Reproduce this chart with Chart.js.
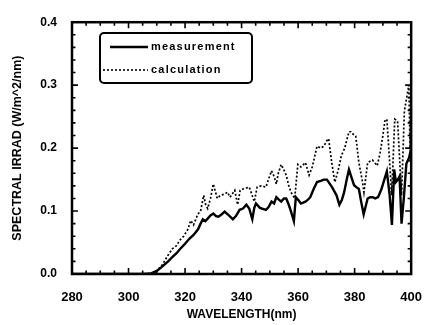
<!DOCTYPE html>
<html>
<head>
<meta charset="utf-8">
<script src="https://cdn.jsdelivr.net/npm/chart.js@4/dist/chart.umd.min.js"></script>
<style>
  body { margin: 0; background: #fff; }
  #wrap { width: 438px; height: 325px; position: relative; }
</style>
</head>
<body>
<div id="wrap"><canvas id="line-chart" width="438" height="325"></canvas></div>
<script>
var measWave = [280, 290, 300, 305, 308, 310, 312, 314, 315.3, 317, 318.7, 320, 321.5, 323, 324.6, 325.5, 326.3, 327.2, 328, 329, 330, 331, 331.8, 333, 334, 335.5, 336.9, 338, 339.3, 340.5, 341.7, 342.7, 343.8, 344.5, 345.1, 346.5, 348.6, 349.5, 350.6, 351.5, 352.3, 353.2, 354, 355, 355.8, 356.7, 357.5, 358.5, 359.2, 360, 361, 362.6, 363.5, 364.3, 365.5, 366.7, 368, 369.1, 370.2, 372, 373.6, 374.6, 375.5, 376.3, 377.2, 378, 379, 379.8, 380.6, 381.5, 382.3, 383.2, 384.6, 385.5, 386.3, 387.3, 388.3, 389.5, 390.5, 391.4, 392.4, 393.2, 394, 394.6, 395.3, 395.9, 396.6, 397.4, 398.3, 399.3, 400]
var measIrr = [0, 0, 0, 0, 0.001, 0.005, 0.012, 0.02, 0.026, 0.033, 0.042, 0.048, 0.056, 0.062, 0.071, 0.08, 0.087, 0.084, 0.088, 0.093, 0.096, 0.092, 0.091, 0.095, 0.099, 0.093, 0.087, 0.092, 0.102, 0.104, 0.11, 0.104, 0.087, 0.105, 0.112, 0.105, 0.102, 0.106, 0.115, 0.112, 0.122, 0.118, 0.115, 0.12, 0.12, 0.11, 0.099, 0.084, 0.122, 0.118, 0.112, 0.115, 0.118, 0.122, 0.135, 0.146, 0.148, 0.15, 0.15, 0.138, 0.125, 0.11, 0.118, 0.13, 0.15, 0.166, 0.152, 0.141, 0.138, 0.135, 0.115, 0.095, 0.12, 0.122, 0.122, 0.12, 0.122, 0.135, 0.15, 0.163, 0.125, 0.078, 0.166, 0.146, 0.15, 0.155, 0.08, 0.12, 0.175, 0.185, 0.2]

var calcWave = [280, 290, 300, 305, 308, 310, 312, 314, 315.5, 317, 318, 319.5, 321, 322, 323, 324.5, 325.5, 326.6, 327.3, 328, 329, 330, 331.4, 332.5, 334, 335, 335.9, 337.6, 338.6, 339.5, 340.5, 342.7, 343.5, 344.5, 345.5, 347, 348.6, 349.5, 350.6, 351.5, 352.3, 353, 354, 355, 355.8, 356.7, 357.5, 358.8, 359.9, 361, 362.6, 363.9, 365, 366.7, 368, 369.1, 370.2, 370.8, 371.9, 373, 374.2, 375.3, 376.5, 378, 378.7, 379.5, 380.4, 381.5, 382.8, 383.3, 384.6, 386.3, 388, 389, 390, 390.7, 391.4, 391.9, 393.1, 394.2, 395.2, 396.6, 397.6, 398.6, 399.2, 399.6, 400]
var calcIrr = [0, 0, 0, 0, 0.001, 0.005, 0.015, 0.03, 0.04, 0.045, 0.053, 0.06, 0.071, 0.085, 0.078, 0.095, 0.1, 0.125, 0.11, 0.104, 0.12, 0.143, 0.12, 0.125, 0.127, 0.13, 0.122, 0.133, 0.11, 0.133, 0.135, 0.138, 0.128, 0.115, 0.138, 0.14, 0.138, 0.15, 0.164, 0.155, 0.143, 0.16, 0.174, 0.165, 0.157, 0.14, 0.13, 0.12, 0.174, 0.17, 0.177, 0.157, 0.17, 0.203, 0.2, 0.203, 0.212, 0.215, 0.177, 0.146, 0.165, 0.188, 0.2, 0.226, 0.226, 0.222, 0.219, 0.177, 0.146, 0.13, 0.177, 0.181, 0.172, 0.192, 0.22, 0.243, 0.246, 0.212, 0.125, 0.246, 0.243, 0.125, 0.259, 0.285, 0.3, 0.2, 0.29]

var seriesNames = ["measurement", "calculation"]
var xTicks = [280, 300, 320, 340, 360, 380, 400]
var yTicks = [0.0, 0.1, 0.2, 0.3, 0.4]

function toPoints(xs, ys){
  var pts = []
  for (var i = 0; i < xs.length; i++){
    pts.push({x: xs[i], y: ys[i]})
  }
  return pts
}

// frame, inward ticks on all four sides, and the boxed legend
var framePlugin = {
  id: "frame",
  afterDraw: function(chart){
    var ctx = chart.ctx
    var a = chart.chartArea
    var xs = chart.scales.x
    var ys = chart.scales.y
    ctx.save()
    ctx.strokeStyle = "#000"
    ctx.lineWidth = 1.6
    ctx.beginPath()
    for (var v = 280; v <= 400; v += 5){
      var px = xs.getPixelForValue(v)
      var len = (v % 20 == 0) ? 6 : 3.5
      ctx.moveTo(px, a.bottom); ctx.lineTo(px, a.bottom - len)
      ctx.moveTo(px, a.top); ctx.lineTo(px, a.top + len)
    }
    for (var k = 0; k <= 20; k++){
      var py = ys.getPixelForValue(k * 0.02)
      var len2 = (k % 5 == 0) ? 6 : 3.5
      ctx.moveTo(a.left, py); ctx.lineTo(a.left + len2, py)
      ctx.moveTo(a.right, py); ctx.lineTo(a.right - len2, py)
    }
    ctx.stroke()
    ctx.lineWidth = 2.5
    ctx.strokeRect(a.left, a.top, a.right - a.left, a.bottom - a.top)

    // legend
    ctx.lineWidth = 2
    ctx.beginPath()
    ctx.roundRect(100, 33, 152, 50, 4)
    ctx.stroke()
    ctx.lineWidth = 2.5
    ctx.beginPath()
    ctx.moveTo(110, 47); ctx.lineTo(148, 47)
    ctx.stroke()
    ctx.lineWidth = 1.6
    ctx.setLineDash([2, 2])
    ctx.beginPath()
    ctx.moveTo(103, 70); ctx.lineTo(148, 70)
    ctx.stroke()
    ctx.setLineDash([])
    ctx.fillStyle = "#000"
    ctx.font = "bold 11px 'Liberation Sans', Arial, sans-serif"
    ctx.letterSpacing = "1.2px"
    ctx.textBaseline = "middle"
    ctx.fillText(seriesNames[0], 151, 47)
    ctx.fillText(seriesNames[1], 151, 70)
    ctx.restore()
  }
}

var myChart = new Chart(document.getElementById("line-chart"), {
  type: "scatter",
  data: {
    datasets: [
      {
        label: seriesNames[0],
        data: toPoints(measWave, measIrr),
        showLine: true,
        borderColor: "#000",
        borderWidth: 2.4,
        pointRadius: 0,
        tension: 0
      },
      {
        label: seriesNames[1],
        data: toPoints(calcWave, calcIrr),
        showLine: true,
        borderColor: "#000",
        borderWidth: 1.7,
        borderDash: [2, 2],
        pointRadius: 0,
        tension: 0
      }
    ]
  },
  options: {
    responsive: false,
    animation: false,
    layout: { padding: { left: 4, top: 16, right: 15, bottom: 0 } },
    plugins: {
      legend: { display: false },
      tooltip: { enabled: false }
    },
    scales: {
      x: {
        type: "linear",
        min: 280,
        max: 400,
        afterBuildTicks: function(s){ s.ticks = xTicks.map(function(v){ return {value: v} }) },
        afterFit: function(s){ s.height = 51 },
        grid: { display: false, drawTicks: false },
        border: { display: false },
        ticks: {
          color: "#000",
          padding: 16,
          maxRotation: 0,
          font: { family: "'Liberation Sans', Arial, sans-serif", size: 13, weight: "bold" }
        },
        title: {
          display: true,
          text: "WAVELENGTH(nm)",
          color: "#000",
          padding: { top: 0, bottom: 3 },
          font: { family: "'Liberation Sans', Arial, sans-serif", size: 12, weight: "bold" }
        }
      },
      y: {
        min: 0,
        max: 0.4,
        afterBuildTicks: function(s){ s.ticks = yTicks.map(function(v){ return {value: v} }) },
        afterFit: function(s){ s.width = 68 },
        grid: { display: false, drawTicks: false },
        border: { display: false },
        ticks: {
          color: "#000",
          padding: 15,
          callback: function(v){ return v.toFixed(1) },
          font: { family: "'Liberation Sans', Arial, sans-serif", size: 12, weight: "bold" }
        },
        title: {
          display: true,
          text: "SPECTRAL IRRAD (W/m^2/nm)",
          color: "#000",
          padding: { top: 6, bottom: 0 },
          font: { family: "'Liberation Sans', Arial, sans-serif", size: 12.5, weight: "bold" }
        }
      }
    }
  },
  plugins: [framePlugin]
})
</script>
</body>
</html>
